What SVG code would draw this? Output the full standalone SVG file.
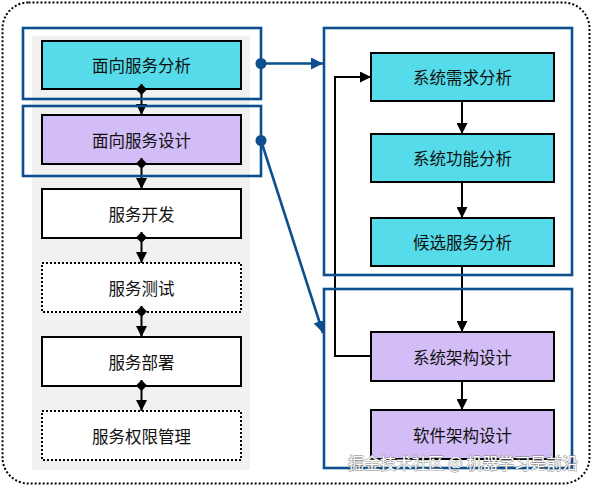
<svg xmlns="http://www.w3.org/2000/svg" width="593" height="487" viewBox="0 0 593 487">
<style>
text{font-family:"Noto Sans CJK SC","Liberation Sans",sans-serif;font-size:16.5px;fill:#111;text-anchor:middle;dominant-baseline:central}
.box{stroke:#000;stroke-width:2}
.cyan{fill:#55dbe9}
.lav{fill:#d3bdf7}
.white{fill:#fff}
.dot{stroke-dasharray:2 2}
.blue{fill:none;stroke:#0d4f8e;stroke-width:2.6}
.conn{stroke:#000;stroke-width:2;fill:none}
.wm{font-size:16px;fill:#fff;stroke:#777;stroke-width:0.8;paint-order:stroke;text-anchor:start}
</style>
<defs>
<marker id="ah" viewBox="0 0 10 10" refX="10" refY="5" markerWidth="5" markerHeight="5" orient="auto" markerUnits="userSpaceOnUse"><path d="M0,0 L10,5 L0,10 z" fill="#000"/></marker>
<marker id="ahk" viewBox="0 0 10 10" refX="10" refY="5" markerWidth="11" markerHeight="11" orient="auto" markerUnits="userSpaceOnUse"><path d="M0,0 L10,5 L0,10 z" fill="#000"/></marker>
<marker id="dm" viewBox="0 0 10 10" refX="0" refY="5" markerWidth="11" markerHeight="11" orient="auto" markerUnits="userSpaceOnUse"><path d="M0,5 L5,0 L10,5 L5,10 z" fill="#000"/></marker>
<marker id="ahb" viewBox="0 0 10 10" refX="10" refY="5" markerWidth="12" markerHeight="12" orient="auto" markerUnits="userSpaceOnUse"><path d="M0,0 L10,5 L0,10 z" fill="#0d4f8e"/></marker>
</defs>
<rect x="2.5" y="2.5" width="587" height="481" rx="26" fill="#fff" stroke="#000" stroke-width="2" stroke-dasharray="2 2"/>
<rect x="32" y="36" width="218" height="434" fill="#f1f1f1"/>

<g id="left-nodes">
<g id="n1"><rect class="box cyan" x="42" y="41" width="199" height="48"/><text x="141.5" y="65">面向服务分析</text></g>
<g id="n2"><rect class="box lav" x="42" y="115" width="199" height="49"/><text x="141.5" y="139.5">面向服务设计</text></g>
<g id="n3"><rect class="box white" x="42" y="189" width="199" height="49"/><text x="141.5" y="213.5">服务开发</text></g>
<g id="n4"><rect class="box white dot" x="42" y="263" width="199" height="49"/><text x="141.5" y="287.5">服务测试</text></g>
<g id="n5"><rect class="box white" x="42" y="337" width="199" height="49"/><text x="141.5" y="361.5">服务部署</text></g>
<g id="n6"><rect class="box white dot" x="42" y="411" width="199" height="49"/><text x="141.5" y="435.5">服务权限管理</text></g>
</g>

<g id="right-nodes">
<g id="r1"><rect class="box cyan" x="371" y="53" width="183" height="48"/><text x="462.5" y="77">系统需求分析</text></g>
<g id="r2"><rect class="box cyan" x="371" y="134" width="183" height="48"/><text x="462.5" y="158">系统功能分析</text></g>
<g id="r3"><rect class="box cyan" x="371" y="218" width="183" height="48"/><text x="462.5" y="242">候选服务分析</text></g>
<g id="r4"><rect class="box lav" x="371" y="332" width="183" height="49"/><text x="462.5" y="356.5">系统架构设计</text></g>
<g id="r5"><rect class="box lav" x="371" y="410" width="183" height="49"/><text x="462.5" y="434.5">软件架构设计</text></g>
</g>

<g id="connectors">
<line class="conn" x1="141.5" y1="84" x2="141.5" y2="115" marker-start="url(#dm)" marker-end="url(#ahk)"/>
<line class="conn" x1="141.5" y1="158" x2="141.5" y2="189" marker-start="url(#dm)" marker-end="url(#ahk)"/>
<line class="conn" x1="141.5" y1="232" x2="141.5" y2="263" marker-start="url(#dm)" marker-end="url(#ahk)"/>
<line class="conn" x1="141.5" y1="306" x2="141.5" y2="337" marker-start="url(#dm)" marker-end="url(#ahk)"/>
<line class="conn" x1="141.5" y1="380" x2="141.5" y2="411" marker-start="url(#dm)" marker-end="url(#ahk)"/>

<line class="conn" x1="462" y1="101" x2="462" y2="134" marker-end="url(#ahk)"/>
<line class="conn" x1="462" y1="182" x2="462" y2="218" marker-end="url(#ahk)"/>
<line class="conn" x1="462" y1="266" x2="462" y2="332" marker-end="url(#ahk)"/>
<line class="conn" x1="462" y1="381" x2="462" y2="410" marker-end="url(#ahk)"/>
<polyline class="conn" points="371,356 335,356 335,77 371,77" marker-end="url(#ahk)"/>

<rect class="blue" x="23" y="28" width="238" height="71"/>
<rect class="blue" x="23" y="106" width="238" height="70"/>
<rect class="blue" x="324" y="28" width="248" height="247"/>
<rect class="blue" x="324" y="289" width="248" height="179"/>
<circle cx="261" cy="63.5" r="5.5" fill="#0d4f8e"/>
<circle cx="261" cy="140.5" r="5.5" fill="#0d4f8e"/>
<line class="blue" x1="261" y1="63.5" x2="323" y2="63.5" marker-end="url(#ahb)"/>
<line class="blue" x1="261" y1="140.5" x2="323" y2="333" marker-end="url(#ahb)"/>
</g>

<text class="wm" x="348" y="462">掘金技术社区 @ 机器学习是前沿</text>
</svg>
